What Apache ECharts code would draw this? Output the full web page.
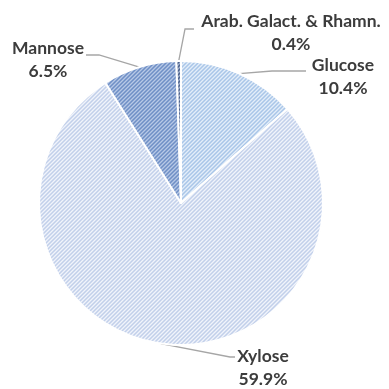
<!DOCTYPE html>
<html>
<head>
<meta charset="utf-8">
<script src="https://cdn.jsdelivr.net/npm/echarts@6/dist/echarts.min.js"></script>
<style>
  html, body { margin: 0; padding: 0; background: #fff; }
  #chart { width: 389px; height: 389px; }
</style>
</head>
<body>
<div id="chart"></div>
<script>
// Sugar composition (% of dry mass)
const sugars = ['Glucose', 'Xylose', 'Mannose', 'Arab. Galact. & Rhamn.'];
const shares = [10.4, 59.9, 6.5, 0.4];
// stripe colour / background colour of each hatched slice
const stripeColors = ['#a9c6e8', '#c2d0ea', '#6f8fc6', '#4b618c'];
const baseColors = ['#e4eef9', '#f1f4fb', '#b7c8e6', '#a3b2cc'];

// label block centres and line elbows / ends
const labelPos = [[343, 77], [263, 368], [48, 60], [291, 33]];
const elbows = [[272, 71], [230, 357], [99, 55], [185, 29]];
const lineEnds = [[306, 71], [235, 357], [86, 55], [194, 29]];

const CX = 181, CY = 203, R = 142;

function hexRgb(h) {
  return [1, 3, 5].map(i => parseInt(h.substr(i, 2), 16));
}

// Small tile of diagonal "/" hatching
function hatch(stripe, base) {
  const n = 4;
  const c = document.createElement('canvas');
  c.width = n; c.height = n;
  const ctx = c.getContext('2d');
  const img = ctx.createImageData(n, n);
  const s = hexRgb(stripe), b = hexRgb(base);
  const weights = [1, 0.55, 0, 0.55];
  for (let y = 0; y < n; y++) {
    for (let x = 0; x < n; x++) {
      const w = weights[(x + y) % n];
      const k = (y * n + x) * 4;
      for (let ch = 0; ch < 3; ch++) img.data[k + ch] = Math.round(s[ch] * w + b[ch] * (1 - w));
      img.data[k + 3] = 255;
    }
  }
  ctx.putImageData(img, 0, 0);
  return { image: c, repeat: 'repeat' };
}

const total = shares.reduce((a, b) => a + b, 0);
const midAngles = [];
let acc = 0;
shares.forEach(v => {
  midAngles.push((acc + v / 2) / total * 2 * Math.PI);
  acc += v;
});

const chart = echarts.init(document.getElementById('chart'), null, { renderer: 'canvas' });
chart.setOption({
  backgroundColor: '#ffffff',
  animation: false,
  series: [{
    type: 'pie',
    center: [CX, CY],
    radius: R,
    startAngle: 90,
    clockwise: true,
    avoidLabelOverlap: false,
    data: sugars.map((name, i) => ({
      name: name,
      value: shares[i],
      itemStyle: { color: hatch(stripeColors[i], baseColors[i]) }
    })),
    itemStyle: { borderColor: '#ffffff', borderWidth: 2 },
    label: {
      show: true,
      position: 'outside',
      formatter: p => p.name + '\n' + p.value.toFixed(1) + '%',
      fontFamily: 'Lato',
      fontWeight: 'bold',
      fontSize: 17.5,
      lineHeight: 23,
      color: '#3c3c3c',
      align: 'center'
    },
    labelLine: {
      show: true,
      lineStyle: { color: '#a6a6a6', width: 1.3 }
    },
    labelLayout: function (params) {
      const i = params.dataIndex;
      const a = midAngles[i];
      const start = [CX + R * Math.sin(a), CY - R * Math.cos(a)];
      return {
        x: labelPos[i][0],
        y: labelPos[i][1],
        align: 'center',
        verticalAlign: 'middle',
        labelLinePoints: [start, elbows[i], lineEnds[i]]
      };
    }
  }]
});
</script>
</body>
</html>
